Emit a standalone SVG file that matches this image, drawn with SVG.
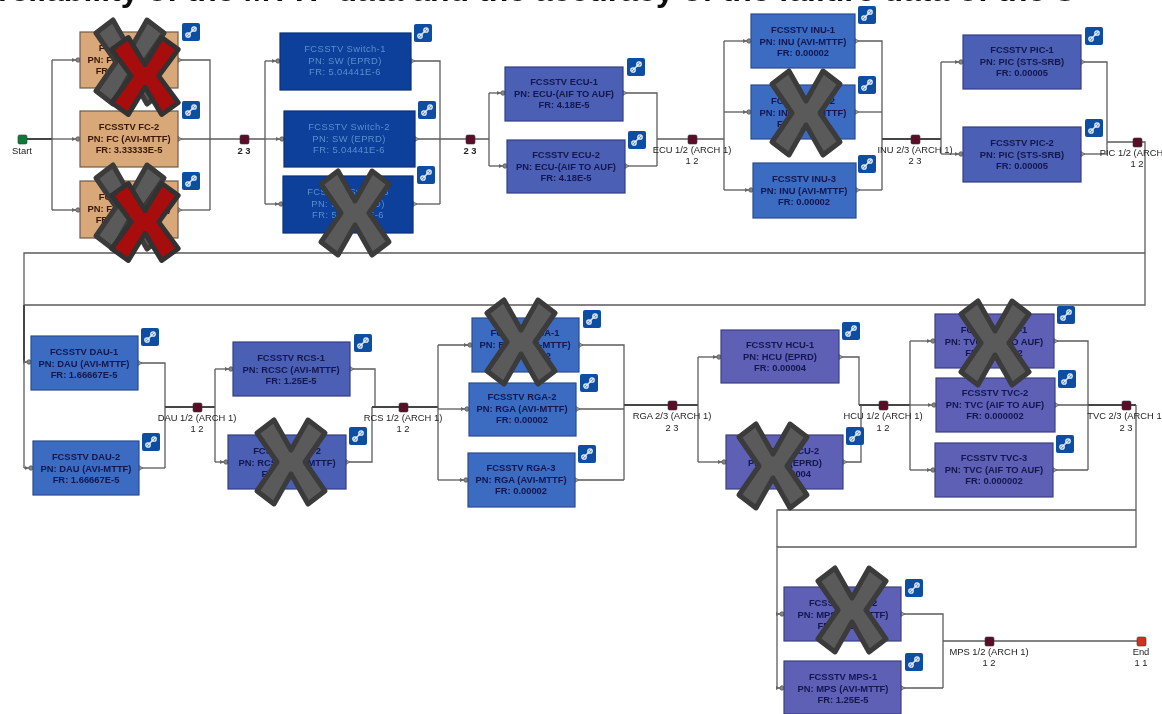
<svg xmlns="http://www.w3.org/2000/svg" width="1162" height="714" viewBox="0 0 1162 714">
<style>
text{font-family:"Liberation Sans",Arial,sans-serif}
.head{font-size:32px;font-weight:700;fill:#111}
rect{stroke-width:1.2}
.n text{font-size:9.4px;font-weight:700;text-anchor:middle;fill:#14174f}
.f text{fill:#3a1806}
.tan{fill:#d8a878;stroke:#6e5a48}
.sw{fill:#0b3f9a;stroke:#0a2f78}
.s text{fill:#5a90cc;font-weight:400;letter-spacing:.4px}
.ind{fill:#5d60b4;stroke:#3c4080}
.bl2{fill:#4b60b4;stroke:#343f84}
.blu{fill:#3a6cc2;stroke:#2a4c90}
.lab{font-size:9.4px;text-anchor:middle;fill:#222}
.c{fill:none;stroke:#5c5c5c;stroke-width:1.3}
.t{fill:none;stroke:#444;stroke-width:2}
.j{fill:#5a0a28;stroke:#3a3a3a;stroke-width:.6}
.gx{fill:#5a5a5a;stroke:#3a3a3a;stroke-width:5;stroke-linejoin:round}
.rx{fill:#a80c0c;stroke:#333;stroke-width:5;stroke-linejoin:round}
</style>
<defs>
<filter id="soft" x="0" y="0" width="100%" height="100%"><feGaussianBlur stdDeviation="0.45"/></filter>
<marker id="in" markerWidth="9" markerHeight="8" refX="8" refY="4" orient="auto" markerUnits="userSpaceOnUse"><path d="M0 2L4 4L0 6Z" fill="#666"/><circle cx="6" cy="4" r="2.2" fill="#888" stroke="#555" stroke-width=".8"/></marker>
<marker id="out" markerWidth="7" markerHeight="8" refX="0" refY="4" orient="auto" markerUnits="userSpaceOnUse"><path d="M0 1.5L4 4L0 6.5Z" fill="#999" stroke="#555" stroke-width=".6"/></marker>
<g id="icon"><rect width="18" height="18" rx="2" fill="#0b4ea2" stroke="none"/><path d="M5 13L13 5" stroke="#dfe8f4" stroke-width="1.4"/><circle cx="6" cy="12" r="2.2" fill="none" stroke="#eef3fa" stroke-width="1.3"/><circle cx="12" cy="6" r="2.2" fill="none" stroke="#eef3fa" stroke-width="1.3"/></g>
<path id="x" d="M-17-42L0-12L17-42L34-29L14 0L34 29L17 42L0 12L-17 42L-34 29L-14 0L-34-29Z"/>
</defs>
<rect width="1162" height="714" fill="#fff" stroke="none"/>
<g filter="url(#soft)">
<text class="head" x="-2" y="0.5">reliability of the MTTF data and the accuracy of the failure data of the S</text>
<g id="connectors">
<path class="t" d="M26 139H52"/>
<path class="c" d="M52 60V210"/>
<path class="c" marker-end="url(#in)" d="M52 60H80"/><path class="c" marker-end="url(#in)" d="M52 139H80"/><path class="c" marker-end="url(#in)" d="M52 210H80"/>
<path class="c" marker-start="url(#out)" d="M178 60H210V210"/><path class="c" marker-start="url(#out)" d="M178 139H240"/><path class="c" marker-start="url(#out)" d="M178 210H210"/>
<path class="c" d="M248 139H265M265 61V204"/>
<path class="c" marker-end="url(#in)" d="M265 61H280"/><path class="c" marker-end="url(#in)" d="M265 139H284"/><path class="c" marker-end="url(#in)" d="M265 204H283"/>
<path class="c" marker-start="url(#out)" d="M411 61H440V204"/><path class="c" marker-start="url(#out)" d="M415 139H466"/><path class="c" marker-start="url(#out)" d="M413 204H440"/>
<path class="c" d="M474 139H489M489 93V166"/>
<path class="c" marker-end="url(#in)" d="M489 93H505"/><path class="c" marker-end="url(#in)" d="M489 166H507"/>
<path class="c" marker-start="url(#out)" d="M623 93H657V166"/><path class="c" marker-start="url(#out)" d="M625 166H657"/>
<path class="c" d="M657 139H688M696 139H724M724 41V190"/>
<path class="c" marker-end="url(#in)" d="M724 41H751"/><path class="c" marker-end="url(#in)" d="M724 112H751"/><path class="c" marker-end="url(#in)" d="M724 190H753"/>
<path class="c" marker-start="url(#out)" d="M855 41H882V190"/><path class="c" marker-start="url(#out)" d="M855 112H882"/><path class="c" marker-start="url(#out)" d="M856 190H882"/>
<path class="t" d="M882 139H911M919 139H941"/><path class="c" d="M941 62V154"/>
<path class="c" marker-end="url(#in)" d="M941 62H963"/><path class="c" marker-end="url(#in)" d="M941 154H963"/>
<path class="c" marker-start="url(#out)" d="M1081 62H1107V154"/><path class="c" marker-start="url(#out)" d="M1081 154H1107"/>
<path class="c" d="M1107 142H1133M1141 142H1145V305H24"/><path class="c" d="M1145 253H24V362"/>
<path class="t" d="M24 305V362"/><path class="c" d="M24 362V468"/>
<path class="c" marker-end="url(#in)" d="M24 362H31"/><path class="c" marker-end="url(#in)" d="M24 468H33"/>
<path class="c" marker-start="url(#out)" d="M138 363H165V468"/><path class="c" marker-start="url(#out)" d="M139 468H165"/>
<path class="t" d="M165 407H193M201 407H215"/><path class="c" d="M215 369V462"/>
<path class="c" marker-end="url(#in)" d="M215 369H233"/><path class="c" marker-end="url(#in)" d="M215 462H228"/>
<path class="c" marker-start="url(#out)" d="M350 369H375V407"/><path class="c" marker-start="url(#out)" d="M346 462H372V407"/>
<path class="t" d="M372 407H399M407 407H438"/><path class="c" d="M438 345V480"/>
<path class="c" marker-end="url(#in)" d="M438 345H472"/><path class="c" marker-end="url(#in)" d="M438 409H469"/><path class="c" marker-end="url(#in)" d="M438 480H468"/>
<path class="c" marker-start="url(#out)" d="M579 345H624V480"/><path class="c" marker-start="url(#out)" d="M576 409H624"/><path class="c" marker-start="url(#out)" d="M575 480H624"/>
<path class="t" d="M624 405H668M676 405H698"/><path class="c" d="M698 357V462"/>
<path class="c" marker-end="url(#in)" d="M698 357H721"/><path class="c" marker-end="url(#in)" d="M698 462H726"/>
<path class="c" marker-start="url(#out)" d="M839 357H859V405"/><path class="c" marker-start="url(#out)" d="M843 462H861V405"/>
<path class="t" d="M859 405H879M887 405H910"/><path class="c" d="M910 341V470"/>
<path class="c" marker-end="url(#in)" d="M910 341H935"/><path class="c" marker-end="url(#in)" d="M910 405H936"/><path class="c" marker-end="url(#in)" d="M910 470H935"/>
<path class="c" marker-start="url(#out)" d="M1054 341H1088V470"/><path class="c" marker-start="url(#out)" d="M1055 405H1088"/><path class="c" marker-start="url(#out)" d="M1053 470H1088"/>
<path class="t" d="M1088 405H1122M1130 405H1136"/><path class="c" d="M1136 405V547H777V688"/><path class="c" d="M1136 510H777V547"/>
<path class="c" marker-end="url(#in)" d="M777 614H784"/><path class="c" marker-end="url(#in)" d="M777 688H784"/>
<path class="c" marker-start="url(#out)" d="M901 614H943V688"/><path class="c" marker-start="url(#out)" d="M901 688H943"/>
<path class="c" d="M943 641H985M993 641H1137"/>
</g>
<g id="start"><rect class="j" style="fill:#0f7a3a" x="18" y="135" width="9" height="9" rx="1.5"/><text class="lab" x="22" y="154">Start</text></g>
<g id="j1"><rect class="j" x="240" y="135" width="9" height="9" rx="1.5"/><text class="lab" x="244" y="154" style="font-weight:700">2 3</text></g>
<g id="j2"><rect class="j" x="466" y="135" width="9" height="9" rx="1.5"/><text class="lab" x="470" y="154" style="font-weight:700">2 3</text></g>
<g id="j3"><rect class="j" x="688" y="135" width="9" height="9" rx="1.5"/><text class="lab" x="692" y="153">ECU 1/2 (ARCH 1)</text><text class="lab" x="692" y="164">1 2</text></g>
<g id="j4"><rect class="j" x="911" y="135" width="9" height="9" rx="1.5"/><text class="lab" x="915" y="153">INU 2/3 (ARCH 1)</text><text class="lab" x="915" y="164">2 3</text></g>
<g id="j5"><rect class="j" x="1133" y="138" width="9" height="9" rx="1.5"/><text class="lab" x="1137" y="156">PIC 1/2 (ARCH 1)</text><text class="lab" x="1137" y="167">1 2</text></g>
<g id="j6"><rect class="j" x="193" y="403" width="9" height="9" rx="1.5"/><text class="lab" x="197" y="421">DAU 1/2 (ARCH 1)</text><text class="lab" x="197" y="432">1 2</text></g>
<g id="j7"><rect class="j" x="399" y="403" width="9" height="9" rx="1.5"/><text class="lab" x="403" y="421">RCS 1/2 (ARCH 1)</text><text class="lab" x="403" y="432">1 2</text></g>
<g id="j8"><rect class="j" x="668" y="401" width="9" height="9" rx="1.5"/><text class="lab" x="672" y="419">RGA 2/3 (ARCH 1)</text><text class="lab" x="672" y="431">2 3</text></g>
<g id="j9"><rect class="j" x="879" y="401" width="9" height="9" rx="1.5"/><text class="lab" x="883" y="419">HCU 1/2 (ARCH 1)</text><text class="lab" x="883" y="431">1 2</text></g>
<g id="j10"><rect class="j" x="1122" y="401" width="9" height="9" rx="1.5"/><text class="lab" x="1126" y="419">TVC 2/3 (ARCH 1)</text><text class="lab" x="1126" y="431">2 3</text></g>
<g id="j11"><rect class="j" x="985" y="637" width="9" height="9" rx="1.5"/><text class="lab" x="989" y="655">MPS 1/2 (ARCH 1)</text><text class="lab" x="989" y="666">1 2</text></g>
<g id="end"><rect class="j" style="fill:#d0301c" x="1137" y="637" width="9" height="9" rx="1.5"/><text class="lab" x="1141" y="655">End</text><text class="lab" x="1141" y="666">1 1</text></g>

<g id="FC-1" class="n f"><rect class="tan" x="80" y="32" width="98" height="56"/><text x="129" y="51">FCSSTV FC-1</text><text x="129" y="63">PN: FC (AVI-MTTF)</text><text x="129" y="74">FR: 3.33333E-5</text><use href="#icon" x="182" y="23"/></g>
<g id="FC-2" class="n f"><rect class="tan" x="80" y="111" width="98" height="56"/><text x="129" y="130">FCSSTV FC-2</text><text x="129" y="142">PN: FC (AVI-MTTF)</text><text x="129" y="153">FR: 3.33333E-5</text><use href="#icon" x="182" y="101"/></g>
<g id="FC-3" class="n f"><rect class="tan" x="80" y="181" width="98" height="57"/><text x="129" y="200">FCSSTV FC-3</text><text x="129" y="212">PN: FC (AVI-MTTF)</text><text x="129" y="223">FR: 3.33333E-5</text><use href="#icon" x="182" y="172"/></g>
<g id="SW-1" class="n s"><rect class="sw" x="280" y="33" width="131" height="57"/><text x="345" y="52">FCSSTV Switch-1</text><text x="345" y="64">PN: SW (EPRD)</text><text x="345" y="75">FR: 5.04441E-6</text><use href="#icon" x="414" y="24"/></g>
<g id="SW-2" class="n s"><rect class="sw" x="284" y="111" width="131" height="56"/><text x="349" y="130">FCSSTV Switch-2</text><text x="349" y="142">PN: SW (EPRD)</text><text x="349" y="153">FR: 5.04441E-6</text><use href="#icon" x="418" y="101"/></g>
<g id="SW-3" class="n s"><rect class="sw" x="283" y="176" width="130" height="57"/><text x="348" y="195">FCSSTV Switch-3</text><text x="348" y="207">PN: SW (EPRD)</text><text x="348" y="218">FR: 5.04441E-6</text><use href="#icon" x="417" y="166"/></g>
<g id="ECU-1" class="n"><rect class="bl2" x="505" y="67" width="118" height="54"/><text x="564" y="85">FCSSTV ECU-1</text><text x="564" y="97">PN: ECU-(AIF TO AUF)</text><text x="564" y="108">FR: 4.18E-5</text><use href="#icon" x="627" y="58"/></g>
<g id="ECU-2" class="n"><rect class="bl2" x="507" y="140" width="118" height="53"/><text x="566" y="158">FCSSTV ECU-2</text><text x="566" y="170">PN: ECU-(AIF TO AUF)</text><text x="566" y="181">FR: 4.18E-5</text><use href="#icon" x="628" y="131"/></g>
<g id="INU-1" class="n"><rect class="blu" x="751" y="14" width="104" height="54"/><text x="803" y="33">FCSSTV INU-1</text><text x="803" y="45">PN: INU (AVI-MTTF)</text><text x="803" y="56">FR: 0.00002</text><use href="#icon" x="858" y="6"/></g>
<g id="INU-2" class="n"><rect class="blu" x="751" y="85" width="104" height="54"/><text x="803" y="104">FCSSTV INU-2</text><text x="803" y="116">PN: INU (AVI-MTTF)</text><text x="803" y="127">FR: 0.00002</text><use href="#icon" x="858" y="76"/></g>
<g id="INU-3" class="n"><rect class="blu" x="753" y="163" width="103" height="55"/><text x="804" y="182">FCSSTV INU-3</text><text x="804" y="194">PN: INU (AVI-MTTF)</text><text x="804" y="205">FR: 0.00002</text><use href="#icon" x="858" y="155"/></g>
<g id="PIC-1" class="n"><rect class="bl2" x="963" y="35" width="118" height="54"/><text x="1022" y="53">FCSSTV PIC-1</text><text x="1022" y="65">PN: PIC (STS-SRB)</text><text x="1022" y="76">FR: 0.00005</text><use href="#icon" x="1085" y="27"/></g>
<g id="PIC-2" class="n"><rect class="bl2" x="963" y="127" width="118" height="55"/><text x="1022" y="146">FCSSTV PIC-2</text><text x="1022" y="158">PN: PIC (STS-SRB)</text><text x="1022" y="169">FR: 0.00005</text><use href="#icon" x="1085" y="119"/></g>
<g id="DAU-1" class="n"><rect class="blu" x="31" y="336" width="107" height="54"/><text x="84" y="355">FCSSTV DAU-1</text><text x="84" y="367">PN: DAU (AVI-MTTF)</text><text x="84" y="378">FR: 1.66667E-5</text><use href="#icon" x="141" y="328"/></g>
<g id="DAU-2" class="n"><rect class="blu" x="33" y="441" width="106" height="54"/><text x="86" y="460">FCSSTV DAU-2</text><text x="86" y="472">PN: DAU (AVI-MTTF)</text><text x="86" y="483">FR: 1.66667E-5</text><use href="#icon" x="142" y="433"/></g>
<g id="RCS-1" class="n"><rect class="bl2" x="233" y="342" width="117" height="54"/><text x="291" y="361">FCSSTV RCS-1</text><text x="291" y="373">PN: RCSC (AVI-MTTF)</text><text x="291" y="384">FR: 1.25E-5</text><use href="#icon" x="354" y="334"/></g>
<g id="RCS-2" class="n"><rect class="bl2" x="228" y="435" width="118" height="54"/><text x="287" y="454">FCSSTV RCS-2</text><text x="287" y="466">PN: RCSC (AVI-MTTF)</text><text x="287" y="477">FR: 1.25E-5</text><use href="#icon" x="349" y="427"/></g>
<g id="RGA-1" class="n"><rect class="blu" x="472" y="318" width="107" height="54"/><text x="525" y="336">FCSSTV RGA-1</text><text x="525" y="348">PN: RGA (AVI-MTTF)</text><text x="525" y="359">FR: 0.00002</text><use href="#icon" x="583" y="310"/></g>
<g id="RGA-2" class="n"><rect class="blu" x="469" y="383" width="107" height="53"/><text x="522" y="400">FCSSTV RGA-2</text><text x="522" y="412">PN: RGA (AVI-MTTF)</text><text x="522" y="423">FR: 0.00002</text><use href="#icon" x="580" y="374"/></g>
<g id="RGA-3" class="n"><rect class="blu" x="468" y="453" width="107" height="54"/><text x="521" y="471">FCSSTV RGA-3</text><text x="521" y="483">PN: RGA (AVI-MTTF)</text><text x="521" y="494">FR: 0.00002</text><use href="#icon" x="578" y="445"/></g>
<g id="HCU-1" class="n"><rect class="ind" x="721" y="330" width="118" height="53"/><text x="780" y="348">FCSSTV HCU-1</text><text x="780" y="360">PN: HCU (EPRD)</text><text x="780" y="371">FR: 0.00004</text><use href="#icon" x="842" y="322"/></g>
<g id="HCU-2" class="n"><rect class="ind" x="726" y="435" width="117" height="54"/><text x="785" y="454">FCSSTV HCU-2</text><text x="785" y="466">PN: HCU (EPRD)</text><text x="785" y="477">FR: 0.00004</text><use href="#icon" x="846" y="427"/></g>
<g id="TVC-1" class="n"><rect class="ind" x="935" y="314" width="119" height="54"/><text x="994" y="333">FCSSTV TVC-1</text><text x="994" y="345">PN: TVC (AIF TO AUF)</text><text x="994" y="356">FR: 0.000002</text><use href="#icon" x="1057" y="306"/></g>
<g id="TVC-2" class="n"><rect class="ind" x="936" y="378" width="119" height="54"/><text x="995" y="396">FCSSTV TVC-2</text><text x="995" y="408">PN: TVC (AIF TO AUF)</text><text x="995" y="419">FR: 0.000002</text><use href="#icon" x="1058" y="370"/></g>
<g id="TVC-3" class="n"><rect class="ind" x="935" y="443" width="118" height="54"/><text x="994" y="461">FCSSTV TVC-3</text><text x="994" y="473">PN: TVC (AIF TO AUF)</text><text x="994" y="484">FR: 0.000002</text><use href="#icon" x="1056" y="435"/></g>
<g id="MPS-2" class="n"><rect class="ind" x="784" y="587" width="117" height="54"/><text x="843" y="606">FCSSTV MPS-2</text><text x="843" y="618">PN: MPS (AVI-MTTF)</text><text x="843" y="629">FR: 1.25E-5</text><use href="#icon" x="905" y="579"/></g>
<g id="MPS-1" class="n"><rect class="ind" x="784" y="661" width="117" height="53"/><text x="843" y="680">FCSSTV MPS-1</text><text x="843" y="692">PN: MPS (AVI-MTTF)</text><text x="843" y="703">FR: 1.25E-5</text><use href="#icon" x="905" y="653"/></g>

<g id="failed-marks">
<use href="#x" class="gx" x="130" y="62"/><use href="#x" class="rx" transform="translate(145 76) scale(.98 .92)"/>
<use href="#x" class="gx" x="130" y="207"/><use href="#x" class="rx" transform="translate(145 222) scale(.98 .92)"/>
<use href="#x" class="gx" x="355" y="213"/>
<use href="#x" class="gx" x="806" y="113"/>
<use href="#x" class="gx" x="291" y="462"/>
<use href="#x" class="gx" x="521" y="342"/>
<use href="#x" class="gx" x="773" y="466"/>
<use href="#x" class="gx" x="995" y="343"/>
<use href="#x" class="gx" x="852" y="610"/>
</g>
</g>
</svg>
